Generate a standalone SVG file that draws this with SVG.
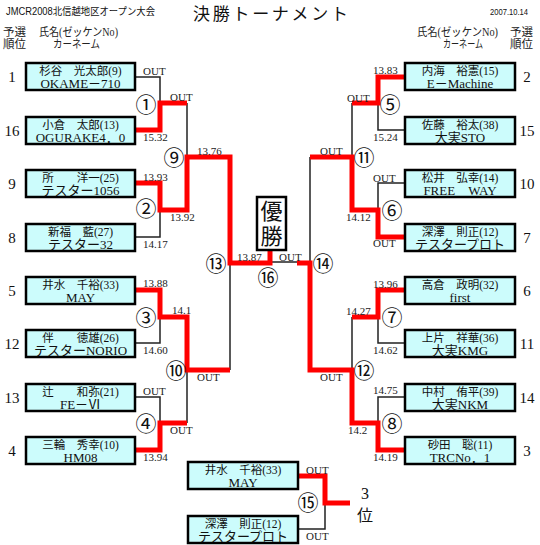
<svg xmlns="http://www.w3.org/2000/svg" width="540" height="545" viewBox="0 0 540 545">
<style>
.bg{fill:#ffffff}
.box{fill:#ccfcfc;stroke:#000;stroke-width:2.5}
.nm{font-family:"Liberation Serif","Noto Sans CJK JP",serif;font-size:11.5px;fill:#111;text-anchor:middle}
.cr{font-family:"Liberation Serif","Noto Sans CJK JP",serif;font-size:13px;fill:#111;text-anchor:middle}
.seed{font-family:"Liberation Serif","Noto Sans CJK JP",serif;font-size:15px;fill:#111;text-anchor:middle}
.lb{font-family:"Liberation Serif","Noto Sans CJK JP",serif;font-size:11px;fill:#222}
.cn{font-family:"Noto Sans CJK JP",sans-serif;font-size:21px;fill:#111;text-anchor:middle}
.hd{font-family:"Liberation Serif","Noto Sans CJK JP",serif;font-size:11.5px;fill:#222}
.blk{fill:none;stroke:#222;stroke-width:1.5}
.red{fill:none;stroke:#ff0000;stroke-width:5}
</style>
<rect class="bg" x="0" y="0" width="540" height="545"/>
<g id="header">
<text x="6" y="15" font-family="Liberation Sans,Noto Sans CJK JP,sans-serif" font-size="10" textLength="149" lengthAdjust="spacingAndGlyphs" fill="#111">JMCR2008北信越地区オープン大会</text>
<text x="193" y="20" font-family="Liberation Serif,Noto Sans CJK JP,serif" font-size="17" textLength="155" lengthAdjust="spacing" fill="#111">決 勝 ト ー ナ メ ン ト</text>
<text x="490" y="15" font-family="Liberation Sans,sans-serif" font-size="9.5" textLength="38" lengthAdjust="spacingAndGlyphs" fill="#111">2007.10.14</text>
<text class="hd" x="3" y="36">予選</text>
<text class="hd" x="3" y="48">順位</text>
<text class="hd" x="39" y="36" textLength="79" lengthAdjust="spacingAndGlyphs">氏名(ゼッケンNo)</text>
<text class="hd" x="53" y="48" textLength="47" lengthAdjust="spacingAndGlyphs">カーネーム</text>
<text class="hd" x="417" y="36" textLength="81" lengthAdjust="spacingAndGlyphs">氏名(ゼッケンNo)</text>
<text class="hd" x="443" y="48" textLength="40" lengthAdjust="spacingAndGlyphs">カーネーム</text>
<text class="hd" x="510" y="36">予選</text>
<text class="hd" x="510" y="48">順位</text>
</g>
<g id="connectors">
<path class="blk" d="M135,77 H160 V103"/>
<path class="blk" d="M187,103 V157"/>
<path class="blk" d="M135,237 H160 V210"/>
<path class="blk" d="M230,263 V370"/>
<path class="blk" d="M135,343 H160 V317"/>
<path class="blk" d="M135,397 H160 V423"/>
<path class="blk" d="M187,370 V423"/>
<path class="blk" d="M270,262 H297"/>
<path class="blk" d="M405,130 H378 V103"/>
<path class="blk" d="M352,103 V157"/>
<path class="blk" d="M405,183 H378 V210"/>
<path class="blk" d="M310,157 V263"/>
<path class="blk" d="M405,343 H378 V317"/>
<path class="blk" d="M352,317 V370"/>
<path class="blk" d="M405,397 H378 V423"/>
<path class="blk" d="M298,529 H325 V503"/>
<path class="red" d="M135,130 H160 V103 H187"/>
<path class="red" d="M135,183 H160 V210 H187 V157 H230 V263 H270 V250"/>
<path class="red" d="M135,290 H160 V317 H187 V370 H230"/>
<path class="red" d="M135,450 H160 V423 H187"/>
<path class="red" d="M297,263 H310 V370 H352 V423 H378 V450 H405"/>
<path class="red" d="M405,77 H378 V103 H352"/>
<path class="red" d="M405,237 H378 V210 H352 V157 H310"/>
<path class="red" d="M405,290 H378 V317 H352"/>
<path class="red" d="M298,476 H325 V503 H350"/>
</g>
<g id="labels">
<text class="lb" x="143" y="75">OUT</text>
<text class="lb" x="170" y="101">OUT</text>
<text class="lb" x="143" y="141">15.32</text>
<text class="lb" x="143" y="181">13.93</text>
<text class="lb" x="170" y="221">13.92</text>
<text class="lb" x="143" y="248">14.17</text>
<text class="lb" x="197" y="155">13.76</text>
<text class="lb" x="143" y="287">13.88</text>
<text class="lb" x="172" y="314">14.1</text>
<text class="lb" x="143" y="354">14.60</text>
<text class="lb" x="143" y="395">OUT</text>
<text class="lb" x="170" y="434">OUT</text>
<text class="lb" x="143" y="461">13.94</text>
<text class="lb" x="197" y="381">OUT</text>
<text class="lb" x="237" y="261">13.87</text>
<text class="lb" x="279" y="261">OUT</text>
<text class="lb" x="373" y="74">13.83</text>
<text class="lb" x="347" y="102">OUT</text>
<text class="lb" x="373" y="141">15.24</text>
<text class="lb" x="320" y="155">OUT</text>
<text class="lb" x="373" y="182">OUT</text>
<text class="lb" x="346" y="221">14.12</text>
<text class="lb" x="373" y="247">OUT</text>
<text class="lb" x="373" y="288">13.96</text>
<text class="lb" x="346" y="315">14.27</text>
<text class="lb" x="373" y="354">14.62</text>
<text class="lb" x="320" y="381">OUT</text>
<text class="lb" x="373" y="394">14.75</text>
<text class="lb" x="348" y="434">14.2</text>
<text class="lb" x="373" y="461">14.19</text>
<text class="lb" x="306" y="474">OUT</text>
<text class="lb" x="306" y="540">OUT</text>
</g>
<g id="matches">
<text class="cn" x="146" y="112">①</text>
<text class="cn" x="146" y="216">②</text>
<text class="cn" x="146" y="325">③</text>
<text class="cn" x="146" y="431">④</text>
<text class="cn" x="390" y="112">⑤</text>
<text class="cn" x="392" y="218">⑥</text>
<text class="cn" x="392" y="325">⑦</text>
<text class="cn" x="392" y="431">⑧</text>
<text class="cn" x="174" y="165">⑨</text>
<text class="cn" x="176" y="378">⑩</text>
<text class="cn" x="364" y="165">⑪</text>
<text class="cn" x="364" y="378">⑫</text>
<text class="cn" x="216" y="271">⑬</text>
<text class="cn" x="323" y="271">⑭</text>
<text class="cn" x="308" y="510">⑮</text>
<text class="cn" x="268" y="285">⑯</text>
</g>
<g id="champion">
<rect x="257" y="197" width="29" height="53" fill="#fff" stroke="#000" stroke-width="2.5"/>
<text x="271.5" y="200" writing-mode="vertical-rl" font-family="Noto Sans CJK JP,sans-serif" font-size="22" letter-spacing="3" text-anchor="start" fill="#111">優勝</text>
</g>
<g id="third">
<text x="365" y="499" font-family="Liberation Serif,serif" font-size="16" text-anchor="middle" fill="#111">3</text>
<text x="365" y="521" font-family="Noto Sans CJK JP,sans-serif" font-size="16" text-anchor="middle" fill="#111">位</text>
</g>
<g id="p1"><rect class="box" x="26" y="63" width="109" height="27"/><text class="nm" x="80.5" y="74.5">杉谷　光太郎(9)</text><text class="cr" x="80.5" y="88">OKAME－710</text><text class="seed" x="12" y="82">1</text></g>
<g id="p16"><rect class="box" x="26" y="117" width="109" height="27"/><text class="nm" x="80.5" y="128.5">小倉　太郎(13)</text><text class="cr" x="80.5" y="142">OGURAKE4．0</text><text class="seed" x="12" y="136">16</text></g>
<g id="p9"><rect class="box" x="26" y="170" width="109" height="27"/><text class="nm" x="80.5" y="181.5">所　　洋一(25)</text><text class="cr" x="80.5" y="195">テスター1056</text><text class="seed" x="12" y="189">9</text></g>
<g id="p8"><rect class="box" x="26" y="224" width="109" height="27"/><text class="nm" x="80.5" y="235.5">新福　藍(27)</text><text class="cr" x="80.5" y="249">テスター32</text><text class="seed" x="12" y="243">8</text></g>
<g id="p5"><rect class="box" x="26" y="277" width="109" height="27"/><text class="nm" x="80.5" y="288.5">井水　千裕(33)</text><text class="cr" x="80.5" y="302">MAY</text><text class="seed" x="12" y="296">5</text></g>
<g id="p12"><rect class="box" x="26" y="330" width="109" height="27"/><text class="nm" x="80.5" y="341.5">伴　　徳雄(26)</text><text class="cr" x="80.5" y="355">テスターNORIO</text><text class="seed" x="12" y="349">12</text></g>
<g id="p13"><rect class="box" x="26" y="384" width="109" height="27"/><text class="nm" x="80.5" y="395.5">辻　　和弥(21)</text><text class="cr" x="80.5" y="409">FE－Ⅵ</text><text class="seed" x="12" y="403">13</text></g>
<g id="p4"><rect class="box" x="26" y="437" width="109" height="27"/><text class="nm" x="80.5" y="448.5">三輪　秀幸(10)</text><text class="cr" x="80.5" y="462">HM08</text><text class="seed" x="12" y="456">4</text></g>
<g id="p2"><rect class="box" x="405" y="63" width="110" height="27"/><text class="nm" x="460" y="74.5">内海　裕憲(15)</text><text class="cr" x="460" y="88">E－Machine</text><text class="seed" x="527" y="82">2</text></g>
<g id="p15"><rect class="box" x="405" y="117" width="110" height="27"/><text class="nm" x="460" y="128.5">佐藤　裕太(38)</text><text class="cr" x="460" y="142">大実STO</text><text class="seed" x="527" y="136">15</text></g>
<g id="p10"><rect class="box" x="405" y="170" width="110" height="27"/><text class="nm" x="460" y="181.5">松井　弘幸(14)</text><text class="cr" x="460" y="195">FREE　WAY</text><text class="seed" x="527" y="189">10</text></g>
<g id="p7"><rect class="box" x="405" y="224" width="110" height="27"/><text class="nm" x="460" y="235.5">深澤　則正(12)</text><text class="cr" x="460" y="249">テスタープロト</text><text class="seed" x="527" y="243">7</text></g>
<g id="p6"><rect class="box" x="405" y="277" width="110" height="27"/><text class="nm" x="460" y="288.5">高倉　政明(32)</text><text class="cr" x="460" y="302">first</text><text class="seed" x="527" y="296">6</text></g>
<g id="p11"><rect class="box" x="405" y="330" width="110" height="27"/><text class="nm" x="460" y="341.5">上片　祥華(36)</text><text class="cr" x="460" y="355">大実KMG</text><text class="seed" x="527" y="349">11</text></g>
<g id="p14"><rect class="box" x="405" y="384" width="110" height="27"/><text class="nm" x="460" y="395.5">中村　侑平(39)</text><text class="cr" x="460" y="409">大実NKM</text><text class="seed" x="527" y="403">14</text></g>
<g id="p3"><rect class="box" x="405" y="437" width="110" height="27"/><text class="nm" x="460" y="448.5">砂田　聡(11)</text><text class="cr" x="460" y="462">TRCNo．1</text><text class="seed" x="527" y="456">3</text></g>
<g id="t1"><rect class="box" x="188" y="462" width="110" height="27"/><text class="nm" x="243" y="473.5">井水　千裕(33)</text><text class="cr" x="243" y="487">MAY</text></g>
<g id="t2"><rect class="box" x="188" y="516" width="110" height="27"/><text class="nm" x="243" y="527.5">深澤　則正(12)</text><text class="cr" x="243" y="541">テスタープロト</text></g>
</svg>
